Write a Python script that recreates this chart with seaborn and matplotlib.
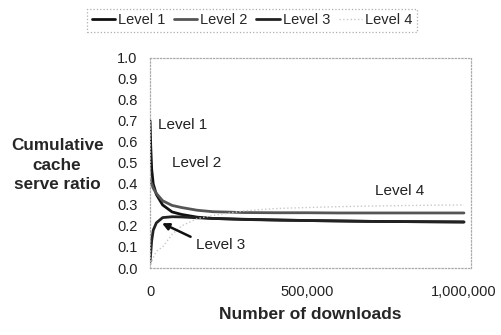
import matplotlib
matplotlib.use("Agg")
import matplotlib.pyplot as plt
import seaborn as sns
import pandas as pd

# Cumulative cache serve ratio by hierarchy level, sampled along the download count
downloads = [0, 2_000, 5_000, 10_000, 20_000, 40_000, 70_000, 100_000, 150_000,
             200_000, 300_000, 400_000, 500_000, 600_000, 700_000, 800_000,
             900_000, 1_000_000]
level1 = [0.70, 0.58, 0.47, 0.40, 0.35, 0.30, 0.267, 0.255, 0.242, 0.236, 0.232,
          0.229, 0.226, 0.224, 0.222, 0.221, 0.220, 0.219]
level2 = [0.42, 0.41, 0.40, 0.38, 0.355, 0.32, 0.298, 0.288, 0.275, 0.268, 0.264,
          0.263, 0.263, 0.262, 0.262, 0.262, 0.262, 0.262]
level3 = [0.03, 0.07, 0.13, 0.18, 0.215, 0.24, 0.244, 0.243, 0.239, 0.236, 0.231,
          0.228, 0.226, 0.224, 0.222, 0.221, 0.220, 0.219]
level4 = [0.0, 0.01, 0.03, 0.05, 0.08, 0.10, 0.16, 0.20, 0.235, 0.25, 0.272,
          0.283, 0.288, 0.292, 0.295, 0.297, 0.299, 0.30]
levels = ["Level 1", "Level 2", "Level 3", "Level 4"]
y_ticks = [0.0, 0.1, 0.2, 0.3, 0.4, 0.5, 0.6, 0.7, 0.8, 0.9, 1.0]
x_ticks = [0, 500_000, 1_000_000]
x_tick_labels = ["0", "500,000", "1,000,000"]

df = pd.DataFrame({
    "downloads": downloads * 4,
    "ratio": level1 + level2 + level3 + level4,
    "level": sum([[lv] * len(downloads) for lv in levels], []),
})

sns.set_style("white")
plt.rcParams["font.family"] = ["Liberation Sans", "DejaVu Sans"]

fig = plt.figure(figsize=(5.02, 3.35), dpi=100)
ax = fig.add_axes([0.299, 0.2, 0.639, 0.627])

palette = {"Level 1": "#111111", "Level 2": "#555555",
           "Level 3": "#222222", "Level 4": "#c8c8c8"}
sns.lineplot(data=df, x="downloads", y="ratio", hue="level", palette=palette,
             linewidth=2.0, ax=ax, legend=False)
ax.lines[3].set_linewidth(1.0)
ax.lines[3].set_linestyle(":")

ax.set_xlim(0, 1_022_000)
ax.set_ylim(0, 1.0)
ax.set_yticks(y_ticks)
ax.set_yticklabels([f"{v:.1f}" for v in y_ticks], fontsize=10.5, color="#222222")
ax.set_xticks(x_ticks)
ax.set_xticklabels(x_tick_labels, fontsize=10.5, color="#222222")
ax.tick_params(axis="y", length=3, color="#999999", pad=6)
ax.tick_params(axis="x", length=0, pad=12)

for side in ["left", "right", "top", "bottom"]:
    ax.spines[side].set_visible(True)
    ax.spines[side].set_color("#aaaaaa")
    ax.spines[side].set_linestyle(":")
    ax.spines[side].set_linewidth(0.9)

ax.set_xlabel("Number of downloads", fontsize=12.5, fontweight="bold", labelpad=6)
ax.set_ylabel("Cumulative\ncache\nserve ratio", fontsize=12.3, fontweight="bold",
              rotation=0, ha="center", va="center", labelpad=0, linespacing=1.35)
ax.yaxis.set_label_coords(-0.29, 0.49)

# In-plot labels for each curve
ax.text(25_000, 0.68, "Level 1", fontsize=11, color="#222222", va="center")
ax.text(70_000, 0.50, "Level 2", fontsize=11, color="#222222", va="center")
ax.text(145_000, 0.11, "Level 3", fontsize=11, color="#222222", va="center")
ax.text(717_000, 0.367, "Level 4", fontsize=11, color="#222222", va="center")
ax.annotate("", xy=(30_000, 0.219), xytext=(137_000, 0.143),
            arrowprops=dict(arrowstyle="-|>", color="#111111", lw=1.8,
                            mutation_scale=10))

handles = ax.lines[:4]
leg = fig.legend(handles, levels, loc="center", bbox_to_anchor=(0.502, 0.939),
                 ncol=4, fontsize=10.5, frameon=True, handlelength=1.6,
                 handletextpad=0.2, columnspacing=0.6, borderpad=0.3,
                 fancybox=False)
leg.get_frame().set_edgecolor("#999999")
leg.get_frame().set_linestyle(":")
leg.get_frame().set_linewidth(0.9)

fig.savefig("out.png", dpi=100)
